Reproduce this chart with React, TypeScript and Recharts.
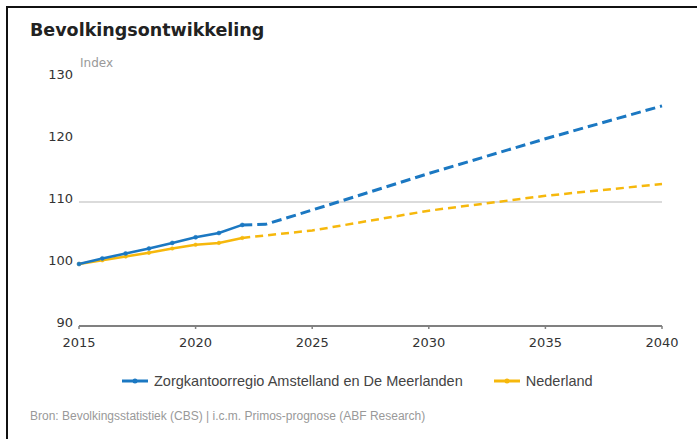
import React from "react";
import { LineChart, Line, XAxis, YAxis, ReferenceLine } from "recharts";

// jaren met gerealiseerde cijfers en prognose
const histYears = [2015, 2016, 2017, 2018, 2019, 2020, 2021, 2022];
const projYears = [2022, 2023, 2025, 2030, 2035, 2040];

const regioHist = [100, 100.9, 101.7, 102.5, 103.4, 104.3, 105.0, 106.3];
const regioProj = [106.3, 106.4, 108.7, 114.6, 120.2, 125.5];

const nlHist = [100, 100.6, 101.2, 101.8, 102.5, 103.1, 103.4, 104.2];
const nlProj = [104.2, 104.6, 105.4, 108.6, 111.0, 112.9];

const xTicks = [2015, 2020, 2025, 2030, 2035, 2040];
const yTicks = [90, 100, 110, 120, 130];

const BLUE = "#1b78c2";
const ORANGE = "#f6b80c";
const FONT = "'DejaVu Sans', Verdana, sans-serif";

const years = Array.from(new Set([...histYears, ...projYears])).sort((a, b) => a - b);
const data = years.map((year) => {
  const h = histYears.indexOf(year);
  const p = projYears.indexOf(year);
  return {
    year,
    regioHist: h >= 0 ? regioHist[h] : null,
    regioProj: p >= 0 ? regioProj[p] : null,
    nlHist: h >= 0 ? nlHist[h] : null,
    nlProj: p >= 0 ? nlProj[p] : null,
  };
});

const YTick = (props: any) => {
  const { x, y, payload } = props;
  return (
    <text x={x} y={y} dy={-4} textAnchor="end" dominantBaseline="central" fontSize={13} fill="#333" fontFamily={FONT}>
      {payload.value}
    </text>
  );
};

const XTick = (props: any) => {
  const { x, y, payload } = props;
  return (
    <text x={x} y={y} dy={11} textAnchor="middle" dominantBaseline="central" fontSize={13} fill="#333" fontFamily={FONT}>
      {payload.value}
    </text>
  );
};

const LegendIcon = ({ color }: { color: string }) => (
  <svg width={28} height={10} style={{ marginRight: 5 }}>
    <line x1={1} y1={5} x2={27} y2={5} stroke={color} strokeWidth={3} />
    <circle cx={14} cy={5} r={2.5} fill={color} />
  </svg>
);

export default function App() {
  return (
    <div
      style={{
        position: "absolute",
        left: 0,
        top: 0,
        width: 697,
        height: 439,
        background: "#fff",
        overflow: "hidden",
      }}
    >
      <div
        style={{
          position: "absolute",
          left: 6,
          top: 6,
          width: 720,
          height: 460,
          borderTop: "2px solid #111",
          borderLeft: "2px solid #111",
        }}
      />
      <div
        style={{
          position: "absolute",
          left: 30,
          top: 20,
          fontFamily: FONT,
          fontWeight: "bold",
          fontSize: 17.5,
          color: "#222",
        }}
      >
        Bevolkingsontwikkeling
      </div>
      <div
        style={{
          position: "absolute",
          left: 80,
          top: 56,
          fontFamily: FONT,
          fontSize: 12,
          color: "#999",
        }}
      >
        Index
      </div>
      <div style={{ position: "absolute", left: 0, top: 0 }}>
        <LineChart width={697} height={439} data={data} margin={{ top: 78, right: 35, left: 0, bottom: 0 }}>
          <XAxis
            dataKey="year"
            type="number"
            domain={[2015, 2040]}
            ticks={xTicks}
            height={113}
            axisLine={{ stroke: "#808080", strokeWidth: 2 }}
            tickLine={{ stroke: "#808080", strokeWidth: 1.5 }}
            tickSize={3}
            tick={<XTick />}
          />
          <YAxis
            type="number"
            domain={[90, 130]}
            ticks={yTicks}
            width={79}
            axisLine={false}
            tickLine={false}
            tickSize={4}
            tick={<YTick />}
          />
          <ReferenceLine y={110} stroke="#cfcfcf" strokeWidth={1.5} />
          <Line
            dataKey="nlHist"
            type="linear"
            stroke={ORANGE}
            strokeWidth={2.5}
            dot={{ r: 1.8, fill: ORANGE, stroke: ORANGE, strokeWidth: 0.5 }}
            connectNulls={false}
            isAnimationActive={false}
          />
          <Line
            dataKey="nlProj"
            type="linear"
            stroke={ORANGE}
            strokeWidth={2.5}
            strokeDasharray="8 5"
            dot={false}
            connectNulls
            isAnimationActive={false}
          />
          <Line
            dataKey="regioHist"
            type="linear"
            stroke={BLUE}
            strokeWidth={2.5}
            dot={{ r: 2, fill: BLUE, stroke: BLUE, strokeWidth: 0.5 }}
            connectNulls={false}
            isAnimationActive={false}
          />
          <Line
            dataKey="regioProj"
            type="linear"
            stroke={BLUE}
            strokeWidth={3}
            strokeDasharray="10 5"
            dot={false}
            connectNulls
            isAnimationActive={false}
          />
        </LineChart>
      </div>
      <div
        style={{
          position: "absolute",
          left: 121,
          top: 373,
          display: "flex",
          alignItems: "center",
          fontFamily: "'Liberation Sans', Arial, sans-serif",
          fontSize: 14.5,
          color: "#444",
        }}
      >
        <LegendIcon color={BLUE} />
        <span>Zorgkantoorregio Amstelland en De Meerlanden</span>
        <span style={{ width: 30 }} />
        <LegendIcon color={ORANGE} />
        <span>Nederland</span>
      </div>
      <div
        style={{
          position: "absolute",
          left: 30,
          top: 409,
          fontFamily: "'Liberation Sans', Arial, sans-serif",
          fontSize: 12,
          color: "#999",
        }}
      >
        Bron: Bevolkingsstatistiek (CBS) | i.c.m. Primos-prognose (ABF Research)
      </div>
    </div>
  );
}
